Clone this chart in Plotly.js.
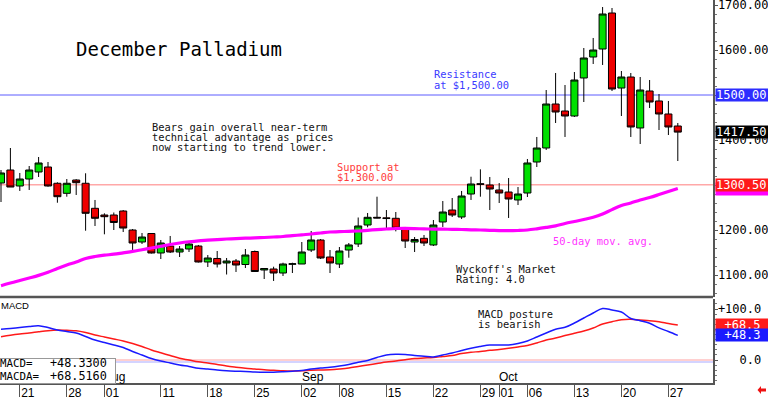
<!DOCTYPE html>
<html><head><meta charset="utf-8">
<script src="https://cdn.plot.ly/plotly-3.0.1.min.js"></script>
<style>html,body{margin:0;padding:0;background:#fff;}#chart{width:768px;height:397px;}</style>
</head><body><div id="chart"></div>
<script>
// ---- data ----
const dates = [
 '2025-07-17','2025-07-18','2025-07-21','2025-07-22','2025-07-23','2025-07-24','2025-07-25','2025-07-28','2025-07-29','2025-07-30',
 '2025-07-31','2025-08-01','2025-08-04','2025-08-05','2025-08-06','2025-08-07','2025-08-08','2025-08-11','2025-08-12','2025-08-13',
 '2025-08-14','2025-08-15','2025-08-18','2025-08-19','2025-08-20','2025-08-21','2025-08-22','2025-08-25','2025-08-26','2025-08-27',
 '2025-08-28','2025-08-29','2025-09-02','2025-09-03','2025-09-04','2025-09-05','2025-09-08','2025-09-09','2025-09-10','2025-09-11',
 '2025-09-12','2025-09-15','2025-09-16','2025-09-17','2025-09-18','2025-09-19','2025-09-22','2025-09-23','2025-09-24','2025-09-25',
 '2025-09-26','2025-09-29','2025-09-30','2025-10-01','2025-10-02','2025-10-03','2025-10-06','2025-10-07','2025-10-08','2025-10-09',
 '2025-10-10','2025-10-13','2025-10-14','2025-10-15','2025-10-16','2025-10-17','2025-10-20','2025-10-21','2025-10-22','2025-10-23',
 '2025-10-24','2025-10-27','2025-10-28'];
const open = [1304.4,1333.3,1297.8,1313.3,1328.9,1340.0,1303.8,1281.5,1311.1,1303.8,
 1248.2,1233.3,1233.3,1242.2,1200.0,1173.3,1192.2,1148.9,1164.4,1151.1,
 1157.8,1164.4,1128.9,1136.7,1126.7,1131.1,1123.3,1152.2,1111.1,1113.3,
 1104.4,1123.8,1124.4,1155.5,1177.8,1140.0,1124.4,1155.5,1168.9,1211.1,
 1228.2,1227.1,1226.0,1202.2,1173.3,1181.5,1166.7,1217.8,1244.4,1228.9,
 1280.0,1302.9,1300.0,1288.9,1284.4,1266.7,1282.2,1351.1,1382.2,1480.0,
 1464.4,1453.3,1537.8,1584.4,1602.2,1682.2,1515.5,1540.0,1426.7,1508.9,
 1486.7,1457.8,1431.1];
const high = [1333.3,1382.2,1326.7,1342.2,1362.2,1351.1,1306.0,1313.3,1313.0,1326.0,
 1266.7,1237.1,1238.9,1244.4,1202.2,1193.3,1193.3,1177.8,1186.7,1164.4,
 1172.2,1166.7,1144.4,1153.3,1137.8,1135.5,1157.8,1154.4,1115.5,1118.4,
 1127.3,1127.3,1173.3,1197.8,1180.0,1155.5,1162.2,1171.1,1227.8,1237.8,
 1274.0,1244.4,1240.0,1206.7,1184.4,1188.9,1222.2,1264.4,1271.1,1286.7,
 1318.4,1334.8,1317.8,1304.4,1315.5,1295.5,1357.8,1406.7,1511.1,1548.9,
 1522.2,1551.1,1604.4,1626.7,1695.5,1693.3,1553.3,1548.9,1540.0,1533.3,
 1502.2,1486.7,1437.8];
const low = [1262.2,1295.5,1286.7,1288.9,1317.8,1296.2,1260.6,1274.0,1277.8,1198.4,
 1208.9,1190.4,1200.0,1195.5,1155.5,1168.9,1147.8,1135.5,1148.9,1140.0,
 1151.1,1127.8,1117.8,1116.7,1101.1,1106.7,1115.5,1106.7,1091.1,1086.7,
 1097.8,1104.4,1124.4,1151.1,1135.5,1104.4,1115.5,1138.4,1162.2,1206.0,
 1226.0,1200.0,1197.0,1160.0,1151.1,1164.4,1164.4,1206.7,1228.9,1224.4,
 1266.7,1274.0,1244.4,1260.0,1226.7,1255.5,1273.3,1340.0,1377.8,1437.8,
 1406.7,1451.1,1484.4,1568.9,1566.7,1508.9,1453.3,1406.7,1391.1,1471.1,
 1422.2,1411.1,1353.3];
const close = [1326.7,1295.5,1313.3,1333.3,1348.9,1297.8,1274.0,1303.8,1305.1,1237.1,
 1226.0,1229.6,1216.7,1204.4,1171.1,1184.4,1148.9,1171.1,1151.1,1157.8,
 1168.9,1128.9,1137.8,1124.4,1131.1,1122.2,1144.4,1107.8,1114.4,1104.4,
 1124.4,1124.9,1151.1,1177.8,1137.8,1126.7,1153.3,1166.7,1208.9,1228.2,
 1226.7,1225.5,1203.8,1175.5,1178.9,1171.1,1211.1,1240.0,1233.3,1275.5,
 1302.2,1301.5,1291.1,1282.2,1268.9,1280.0,1348.9,1382.2,1480.0,1462.2,
 1453.3,1533.3,1582.2,1600.0,1680.0,1513.3,1540.0,1428.9,1511.1,1484.4,
 1457.8,1428.9,1417.5];
const ma50 = [1076.2,1082.2,1087.8,1093.3,1099.1,1106.0,1114.4,1122.2,1128.9,1136.7,
 1141.1,1144.0,1146.2,1149.3,1152.4,1156.2,1160.0,1163.8,1167.8,1171.1,
 1173.8,1176.0,1177.3,1178.7,1180.0,1180.9,1181.8,1182.4,1183.3,1184.4,
 1185.5,1187.3,1189.3,1191.1,1193.3,1195.5,1196.2,1197.1,1197.8,1199.3,
 1200.9,1202.2,1203.3,1203.5,1203.1,1202.4,1202.0,1201.8,1201.5,1201.1,
 1200.4,1200.0,1199.3,1198.7,1198.4,1198.9,1200.0,1202.6,1205.8,1209.3,
 1214.4,1218.9,1223.3,1228.2,1235.5,1245.3,1254.2,1260.0,1266.7,1272.2,
 1278.7,1285.6,1292.2];
const macd = [60.2,61.8,63.7,65.7,67.3,63.7,58.8,55.9,52.9,46.1,
 39.2,34.3,29.4,24.5,16.7,9.8,2.9,-2.0,-5.9,-9.8,
 -12.7,-16.1,-17.6,-19.6,-21.2,-22.0,-22.5,-23.5,-24.1,-23.9,
 -23.1,-22.0,-20.6,-17.6,-15.7,-14.1,-11.8,-8.8,-4.5,-1.0,
 4.9,9.8,11.2,10.8,8.8,7.3,5.9,9.8,13.7,18.6,
 23.1,26.5,29.4,29.4,29.4,32.4,37.3,45.1,52.9,60.4,
 64.1,72.5,82.4,92.2,101.0,98.0,94.1,81.4,77.1,72.0,
 63.1,55.9,48.33];
const macdAvg = [45.7,48.6,51.0,52.9,55.3,57.5,58.8,58.2,57.3,53.9,
 49.0,45.1,41.2,37.3,32.4,26.5,19.6,14.1,8.8,3.3,
 0.0,-3.5,-5.9,-8.8,-11.8,-14.1,-16.1,-17.6,-19.2,-20.2,
 -21.2,-21.6,-21.2,-20.2,-19.6,-19.0,-17.6,-15.7,-12.7,-9.8,
 -6.9,-3.9,-2.0,0.4,2.9,3.9,4.9,6.9,8.8,12.7,
 15.1,16.7,19.0,20.6,22.9,25.5,28.4,33.3,39.2,43.1,
 48.0,52.4,56.9,62.7,70.6,75.1,79.0,79.8,78.4,77.1,
 75.1,71.6,68.516];
const dayTickDates = ['2025-07-21','2025-07-28','2025-08-01','2025-08-11','2025-08-18','2025-08-25','2025-09-02','2025-09-08',
 '2025-09-15','2025-09-22','2025-09-29','2025-10-01','2025-10-06','2025-10-13','2025-10-20','2025-10-27'];
const dayTickLabels = ['21','28','01','11','18','25','02','08','15','22','29','01','06','13','20','27'];
const monthStarts = ['2025-08-01','2025-09-02','2025-10-01'];
const monthLabels = ['Aug','Sep','Oct'];
const priceTicks = [1100,1200,1300,1400,1500,1600,1700];
const priceTickLabels = ['1100.00','1200.00','','1400.00','','1600.00','1700.00'];
const macdTicks = [0,100];
const macdTickLabels = ['\u00a0\u00a0\u00a00.0','+100.0'];
const resistance = 1500.00;
const support = 1300.50;

// ---- layout helpers (pixel -> paper) ----
const PW = 713, PH = 383;
const X = px => px / PW;
const Y = py => (PH - py) / PH;
const mono = 'DejaVu Sans Mono';
function note(text, px, py, color, size, family) {
  return {xref:'paper', yref:'paper', x:X(px), y:Y(py), xanchor:'left', yanchor:'middle',
    text:text, showarrow:false, borderpad:0,
    font:{family:family||mono, size:size||10.4, color:color||'#111'}};
}
function tag(text, yref, yval, bg, align) {
  return {xref:'paper', yref:yref, x:1, xshift:2, y:yval, xanchor:'left', yanchor:'middle',
    text:text, showarrow:false, bgcolor:bg, borderpad:0, width:53, height:12, align:align||'left',
    font:{family:mono, size:12, color:'#fff'}};
}

const last = close.length - 1;
const traces = [
  {type:'candlestick', x:dates, open:open, high:high, low:low, close:close, xaxis:'x', yaxis:'y',
   whiskerwidth:0, hoverinfo:'skip',
   increasing:{fillcolor:'#00e000', line:{color:'#000', width:1}},
   decreasing:{fillcolor:'#ee0000', line:{color:'#000', width:1}}},
  {type:'scatter', mode:'lines', x:dates, y:ma50, xaxis:'x', yaxis:'y',
   line:{color:'#ff00ff', width:3.2, shape:'spline'}, hoverinfo:'skip'},
  {type:'scatter', mode:'lines', x:dates, y:macdAvg, xaxis:'x', yaxis:'y2',
   line:{color:'#ff1a1a', width:1.5, shape:'spline'}, hoverinfo:'skip'},
  {type:'scatter', mode:'lines', x:dates, y:macd, xaxis:'x', yaxis:'y2',
   line:{color:'#1a1aff', width:1.5, shape:'spline'}, hoverinfo:'skip'}
];

const annotations = [
  note('Bears gain overall near-term', 151, 126.7),
  note('technical advantage as prices', 151, 136.7),
  note('now starting to trend lower.', 151, 147),
  note('Resistance', 433, 74.3, '#3a3aff'),
  note('at $1,500.00', 433, 85, '#3a3aff'),
  note('Support at', 336, 166.7, '#ff3c3c'),
  note('$1,300.00', 336, 176.7, '#ff3c3c'),
  note('50-day mov. avg.', 552, 240.7, '#ff33ff'),
  note("Wyckoff's Market", 455, 268.7),
  note('Rating: 4.0', 455, 279.3),
  note('MACD posture', 476.5, 314),
  note('is bearish', 476.5, 324),
  note('MACD', 0, 305.5, '#000', 9.5, 'Liberation Sans')
];
monthStarts.forEach((d, i) => annotations.push({xref:'x', yref:'paper', x:d, xanchor:'left', xshift:-1,
  y:Y(377), yanchor:'middle', text:monthLabels[i], showarrow:false, borderpad:0,
  font:{family:'Liberation Sans', size:12, color:'#000'}}));
annotations.push({xref:'paper', yref:'paper', x:X(-5), y:Y(357.5), xanchor:'left', yanchor:'top',
  text:'\u00a0', showarrow:false, bgcolor:'#fff', bordercolor:'#999', borderwidth:1, borderpad:0,
  width:119, height:24});
annotations.push(note('MACD=', -1, 363, '#000', 10.8));
annotations.push(note('MACDA=', -1, 376, '#000', 10.8));
annotations.push(note('+' + macd[last].toFixed(4), 48.5, 363, '#000', 11.8));
annotations.push(note('+' + macdAvg[last].toFixed(4), 48.5, 376, '#000', 11.8));
// right-axis value tags
annotations.push(tag(resistance.toFixed(2), 'y', resistance, '#2d2dff'));
annotations.push(tag('\u00a0', 'y', ma50[last], '#ff00ff'));
annotations.push(tag(support.toFixed(2), 'y', support, '#ff1a1a'));
annotations.push(tag(close[last].toFixed(2), 'y', close[last], '#000'));
annotations.push(tag('+' + macdAvg[last].toFixed(1), 'y2', macdAvg[last], '#ff1a1a', 'center'));
annotations.push(tag('+' + macd[last].toFixed(1), 'y2', macd[last], '#1a1aff', 'center'));

const shapes = [
  {type:'line', xref:'paper', x0:0, x1:1, yref:'y', y0:resistance, y1:resistance, line:{color:'#5c5cff', width:1}, layer:'below'},
  {type:'line', xref:'paper', x0:0, x1:1, yref:'y', y0:support, y1:support, line:{color:'#ffa8a8', width:1.5}, layer:'below'},
  {type:'line', xref:'paper', x0:0, x1:1, yref:'y2', y0:0, y1:0, line:{color:'#ffd0d0', width:2}, layer:'below'},
  {type:'line', xref:'paper', x0:0, x1:1, yref:'y2', ysizemode:'pixel', yanchor:0, y0:-2, y1:-2, line:{color:'#d4d4ff', width:2}, layer:'below'},
  {type:'line', xref:'paper', x0:0, x1:1, yref:'y domain', y0:0, y1:0, line:{color:'#555', width:2.5}},
  {type:'path', xref:'paper', yref:'paper', fillcolor:'#ee1111', line:{width:0},
   path:'M '+X(757.5)+' '+Y(390)+' L '+X(761)+' '+Y(386)+' L '+X(761)+' '+Y(388.5)+' L '+X(766)+' '+Y(388.5)+
        ' L '+X(766)+' '+Y(391.5)+' L '+X(761)+' '+Y(391.5)+' L '+X(761)+' '+Y(394)+' Z'}
];

const axisFont = {family:mono, size:12, color:'#000'};
const layout = {
  width:768, height:397,
  margin:{l:0, r:55, t:0, b:14, pad:0},
  paper_bgcolor:'#fff', plot_bgcolor:'#fff',
  showlegend:false,
  boxgap:0.15, boxgroupgap:0.12,
  title:{text:'December Palladium', xref:'container', yref:'container', x:76/768, xanchor:'left',
         y:1-49/397, yanchor:'middle', font:{family:mono, size:19, color:'#000'}},
  xaxis:{type:'category', domain:[0,1], anchor:'y2', range:[-0.106, 75.745],
    tickmode:'array', tickvals:dayTickDates, ticktext:dayTickLabels,
    ticks:'outside', ticklen:14, tickcolor:'#555', tickwidth:1,
    ticklabelstandoff:-16, ticklabelshift:8, ticklabeloverflow:'allow',
    tickfont:{family:'Liberation Sans', size:12, color:'#000'},
    showline:true, linecolor:'#555', linewidth:1.5, showgrid:false, zeroline:false,
    rangeslider:{visible:false}, automargin:false, fixedrange:true},
  yaxis:{domain:[(PH-297)/PH, 1], anchor:'x', side:'right', range:[1051.1, 1711.1],
    tickmode:'array', tickvals:priceTicks, ticktext:priceTickLabels,
    ticks:'outside', ticklen:3, tickcolor:'#555', ticklabelstandoff:-2, ticklabeloverflow:'allow',
    minor:{ticks:'outside', ticklen:2, tickcolor:'#777', tickmode:'linear', tick0:1100, dtick:20},
    tickfont:axisFont, showline:true, linecolor:'#555', linewidth:1.5,
    showgrid:false, zeroline:false, automargin:false, fixedrange:true},
  yaxis2:{domain:[0, (PH-299)/PH], anchor:'x', side:'right', range:[-45.1, 119.6],
    tickmode:'array', tickvals:macdTicks, ticktext:macdTickLabels,
    ticks:'outside', ticklen:3, tickcolor:'#555', ticklabelstandoff:-2, ticklabeloverflow:'allow',
    minor:{ticks:'outside', ticklen:2, tickcolor:'#777', tickmode:'linear', tick0:0, dtick:10},
    tickfont:axisFont, showline:true, linecolor:'#555', linewidth:1.5,
    showgrid:false, zeroline:false, automargin:false, fixedrange:true},
  annotations:annotations,
  shapes:shapes
};
Plotly.newPlot('chart', traces, layout, {staticPlot:true, displayModeBar:false});
</script>
</body></html>
